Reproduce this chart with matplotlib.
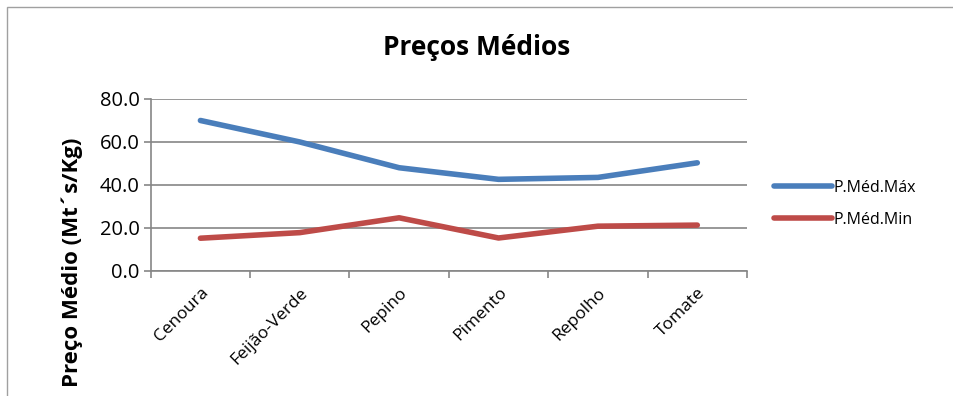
import matplotlib.pyplot as plt
from matplotlib.patches import Rectangle

# dados
produtos = ['Cenoura', 'Feijão-Verde', 'Pepino', 'Pimento', 'Repolho', 'Tomate']
preco_max = [70.0, 60.0, 48.0, 42.6, 43.5, 50.3]
preco_min = [15.2, 17.8, 24.7, 15.3, 20.8, 21.3]

plt.rcParams['font.family'] = ['Open Sans', 'DejaVu Sans']

fig = plt.figure(figsize=(9.54, 3.96), dpi=100)
fig.patches.append(Rectangle((0.007, -0.01), 1.0, 0.993, transform=fig.transFigure,
                             fill=False, edgecolor='#a0a0a0', linewidth=1.0))
ax = fig.add_axes([0.158, 0.316, 0.625, 0.434])

x = list(range(len(produtos)))
ax.plot(x, preco_max, color='#4a7ebb', linewidth=4, label='P.Méd.Máx', solid_capstyle='round')
ax.plot(x, preco_min, color='#be4b48', linewidth=4, label='P.Méd.Min', solid_capstyle='round')

ax.set_xlim(-0.5, 5.5)
ax.set_ylim(0, 80)
ax.set_yticks([0, 20, 40, 60, 80])
ax.set_yticklabels(['%.1f' % v for v in [0, 20, 40, 60, 80]], fontsize=14.5)
ax.yaxis.grid(True, color='#868686', linewidth=1.2)
ax.set_axisbelow(True)

ax.set_xticks(x)
ax.set_xticklabels(produtos, rotation=45, ha='right', rotation_mode='anchor', fontsize=12.5)
ax.tick_params(axis='x', which='major', length=0, pad=10)
ax.set_xticks([i - 0.5 for i in range(len(produtos) + 1)], minor=True)
ax.tick_params(axis='x', which='minor', length=5, color='#868686', width=1.2)
ax.tick_params(axis='y', length=5, color='#868686', width=1.2, pad=3)

for s in ['top', 'right']:
    ax.spines[s].set_visible(False)
for s in ['left', 'bottom']:
    ax.spines[s].set_color('#868686')
    ax.spines[s].set_linewidth(1.2)

ax.set_ylabel('Preço Médio (Mt´s/Kg)', fontsize=16, fontweight='bold', labelpad=12, y=0.05)
fig.text(0.5, 0.88, 'Preços Médios', ha='center', va='center', fontsize=19, fontweight='bold')

ax.legend(loc='center left', bbox_to_anchor=(1.022, 0.39), frameon=False, fontsize=11.5,
          handlelength=3.6, handletextpad=0.1, labelspacing=1.0)

fig.savefig('out.png', dpi=100)
